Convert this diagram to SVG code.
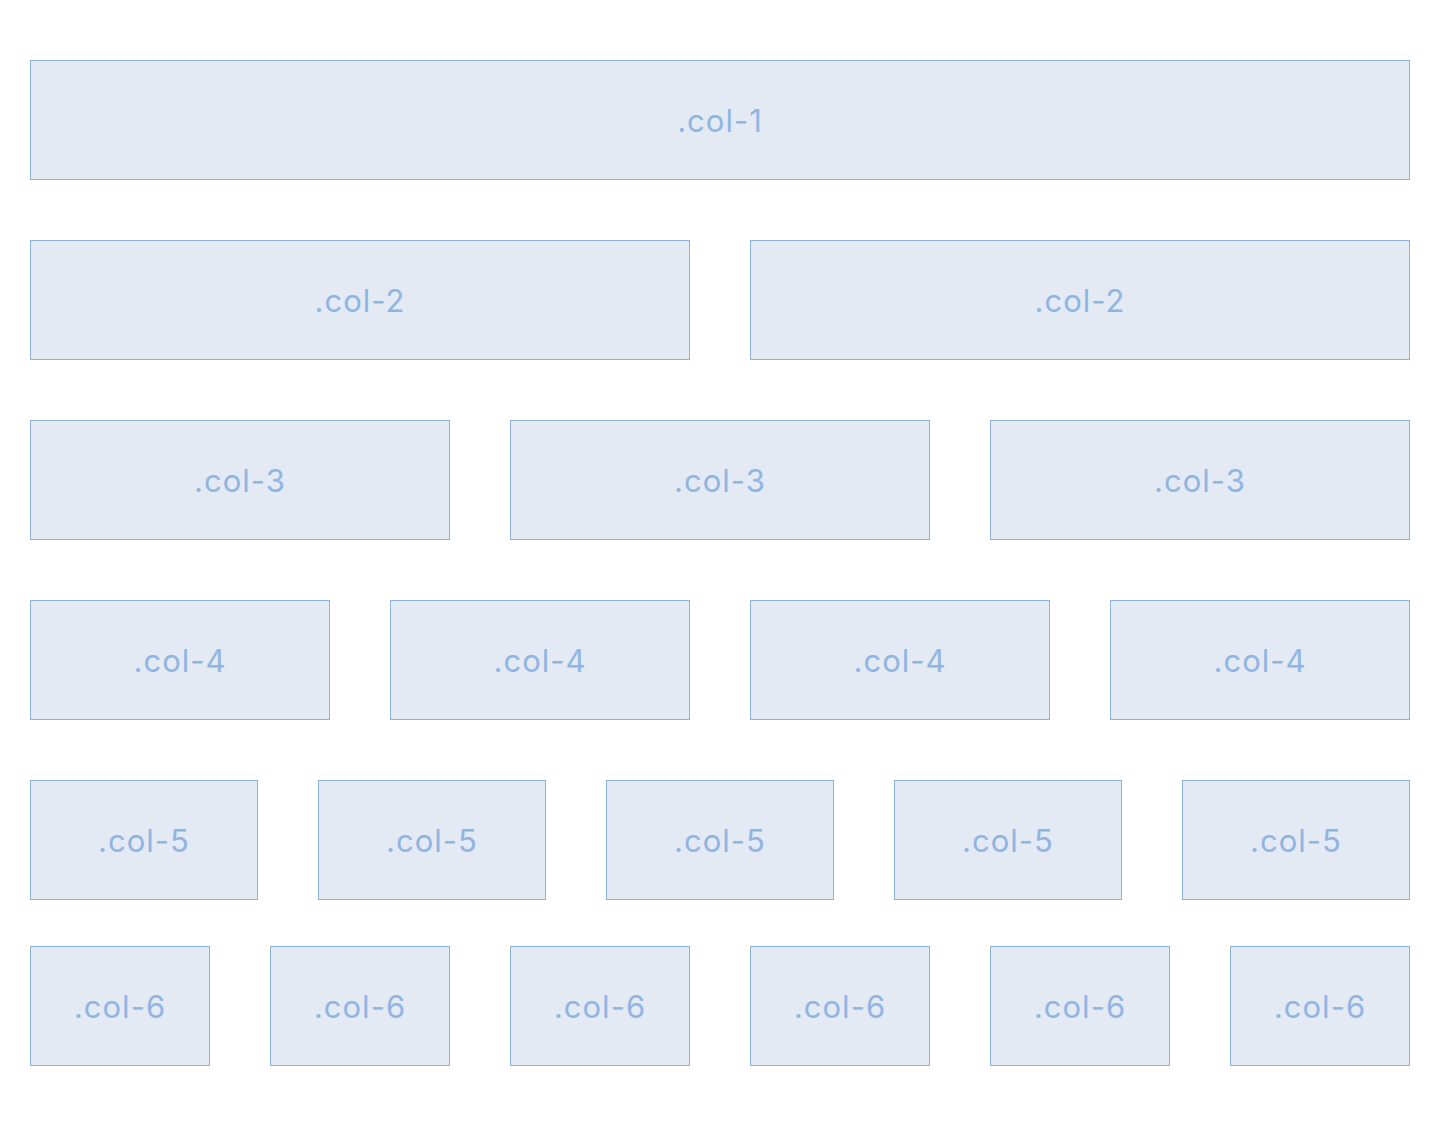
<svg xmlns="http://www.w3.org/2000/svg" width="1440" height="1126" viewBox="0 0 1440 1126">
<style>
.b rect{fill:#e3eaf3;stroke:#8eb2e2;stroke-width:1}
.b text{fill:#8fb5e3;font-family:Inter,"Noto Sans","Liberation Sans",sans-serif;font-size:31px;letter-spacing:1px;text-anchor:middle;dominant-baseline:central}
</style>
<rect width="1440" height="1126" fill="#ffffff"/>
<g class="b">
<g id="r1c1"><rect x="30.5" y="60.5" width="1379" height="119"/><text x="720" y="120">.col-1</text></g>
<g id="r2c1"><rect x="30.5" y="240.5" width="659" height="119"/><text x="360" y="300">.col-2</text></g>
<g id="r2c2"><rect x="750.5" y="240.5" width="659" height="119"/><text x="1080" y="300">.col-2</text></g>
<g id="r3c1"><rect x="30.5" y="420.5" width="419" height="119"/><text x="240" y="480">.col-3</text></g>
<g id="r3c2"><rect x="510.5" y="420.5" width="419" height="119"/><text x="720" y="480">.col-3</text></g>
<g id="r3c3"><rect x="990.5" y="420.5" width="419" height="119"/><text x="1200" y="480">.col-3</text></g>
<g id="r4c1"><rect x="30.5" y="600.5" width="299" height="119"/><text x="180" y="660">.col-4</text></g>
<g id="r4c2"><rect x="390.5" y="600.5" width="299" height="119"/><text x="540" y="660">.col-4</text></g>
<g id="r4c3"><rect x="750.5" y="600.5" width="299" height="119"/><text x="900" y="660">.col-4</text></g>
<g id="r4c4"><rect x="1110.5" y="600.5" width="299" height="119"/><text x="1260" y="660">.col-4</text></g>
<g id="r5c1"><rect x="30.5" y="780.5" width="227" height="119"/><text x="144" y="840">.col-5</text></g>
<g id="r5c2"><rect x="318.5" y="780.5" width="227" height="119"/><text x="432" y="840">.col-5</text></g>
<g id="r5c3"><rect x="606.5" y="780.5" width="227" height="119"/><text x="720" y="840">.col-5</text></g>
<g id="r5c4"><rect x="894.5" y="780.5" width="227" height="119"/><text x="1008" y="840">.col-5</text></g>
<g id="r5c5"><rect x="1182.5" y="780.5" width="227" height="119"/><text x="1296" y="840">.col-5</text></g>
<g id="r6c1"><rect x="30.5" y="946.5" width="179" height="119"/><text x="120" y="1006">.col-6</text></g>
<g id="r6c2"><rect x="270.5" y="946.5" width="179" height="119"/><text x="360" y="1006">.col-6</text></g>
<g id="r6c3"><rect x="510.5" y="946.5" width="179" height="119"/><text x="600" y="1006">.col-6</text></g>
<g id="r6c4"><rect x="750.5" y="946.5" width="179" height="119"/><text x="840" y="1006">.col-6</text></g>
<g id="r6c5"><rect x="990.5" y="946.5" width="179" height="119"/><text x="1080" y="1006">.col-6</text></g>
<g id="r6c6"><rect x="1230.5" y="946.5" width="179" height="119"/><text x="1320" y="1006">.col-6</text></g>
</g>
<g id="connectors"/>
</svg>
